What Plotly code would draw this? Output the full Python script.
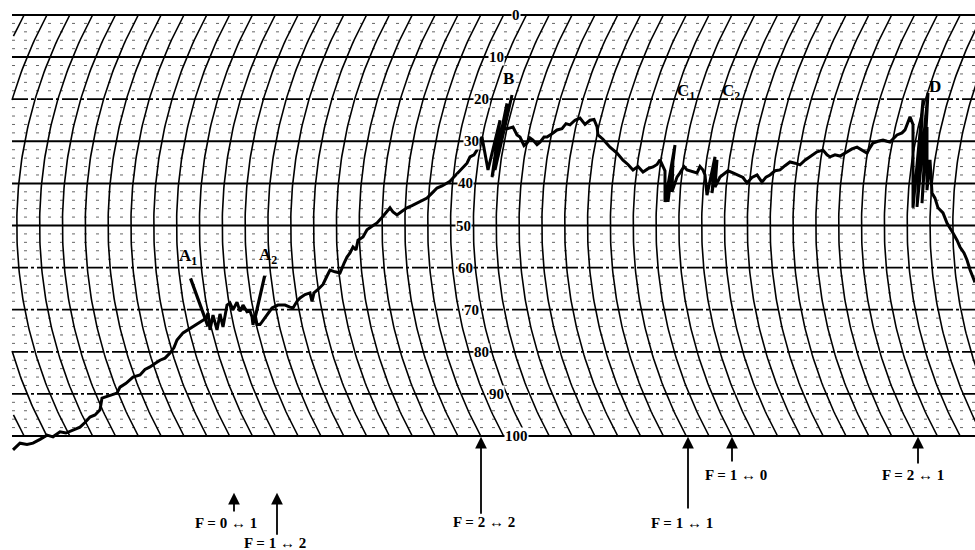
import numpy as np
import plotly.graph_objects as go

# ---------------- data (x: position along the chart strip, y: pen reading 0-100) ------------
# rising part up to the A region
x_rise1 = [13, 17, 20, 27, 33, 40, 47, 53, 60, 66, 73, 80, 85, 90, 95, 100, 102, 106, 112, 117,
           120, 126, 133, 140, 145, 150, 155, 160, 165, 170, 174, 177, 183, 190, 197, 203]
y_rise1 = [103.3, 102.5, 101.7, 102.0, 101.7, 100.8, 99.8, 100.2, 99.0, 99.3, 98.6, 97.9, 96.8,
           95.5, 95.0, 93.8, 91.0, 90.7, 90.2, 89.8, 88.4, 87.5, 86.0, 85.5, 84.2, 83.6, 82.8,
           82.0, 81.5, 80.3, 79.0, 77.2, 75.5, 74.5, 73.5, 72.5]
# A1 / A2 oscillations
x_a = [206, 208, 210, 213, 217, 220, 223, 227, 230, 233, 237, 240, 243, 247, 250, 252, 253, 255,
       257, 260, 262, 267, 272, 278, 285, 290, 293, 297]
y_a = [72.0, 70.8, 74.8, 71.3, 74.8, 71.0, 74.1, 68.9, 68.4, 70.0, 68.2, 70.4, 68.9, 70.5, 70.3,
       71.7, 73.6, 71.0, 73.5, 73.5, 72.9, 71.3, 69.6, 68.9, 68.9, 69.4, 69.6, 68.0]
# second rise up to B
x_rise2 = [300, 305, 310, 312, 314, 318, 323, 327, 330, 335, 340, 344, 347, 350, 353, 356, 358,
           363, 367, 372, 377, 383, 387, 390, 393, 397, 402, 407, 412, 417, 422, 427, 432, 437,
           442, 447, 450, 453, 458, 463, 467, 470, 474, 477, 480]
y_rise2 = [67.2, 66.4, 66.0, 68.0, 66.0, 65.2, 64.0, 62.0, 60.6, 61.0, 61.3, 59.0, 57.5, 56.5,
           55.1, 55.8, 53.5, 52.7, 51.0, 50.2, 49.4, 47.8, 46.5, 45.8, 46.8, 47.5, 46.6, 45.8,
           45.3, 44.7, 44.2, 43.5, 42.3, 41.1, 40.6, 39.9, 39.5, 38.7, 37.4, 36.1, 35.2, 33.7,
           33.2, 32.1, 29.7]
# B oscillation and plateau
x_b = [482, 488, 500, 492, 507, 495, 512, 498, 503, 508, 513, 517, 520, 524, 527, 530, 533, 537,
       540, 544, 547, 552, 557, 562, 566, 570, 575, 580, 585, 590, 594, 597, 598, 603, 610, 617,
       623, 628, 633, 638, 643, 648, 653, 657, 660]
y_b = [29.0, 36.8, 25.0, 38.5, 21.0, 36.8, 19.0, 33.7, 27.3, 27.0, 26.6, 28.5, 29.0, 31.0, 30.4,
       29.2, 29.7, 30.8, 30.2, 29.0, 29.0, 28.2, 27.3, 27.0, 25.8, 26.1, 25.0, 24.5, 26.0, 25.0,
       24.8, 26.5, 28.5, 29.5, 31.4, 32.8, 34.5, 35.5, 36.8, 36.0, 37.3, 36.5, 36.1, 35.5, 34.4]
# C1 / C2 oscillations and slow rise
x_c = [665, 665, 675, 668, 673, 672, 677, 680, 684, 687, 692, 697, 700, 703, 705, 707, 715, 712,
       717, 715, 720, 723, 728, 733, 738, 743, 747, 752, 757, 762, 766, 770, 775, 780, 785, 790,
       795, 800, 805, 810, 814, 817, 823, 827, 830, 835, 840, 844, 847, 852, 857, 862, 867, 870,
       873, 878, 883, 887, 890, 894, 897, 902, 905, 910]
y_c = [37.0, 44.4, 30.9, 44.4, 34.4, 42.0, 38.5, 37.5, 36.0, 36.8, 37.2, 37.5, 36.0, 36.8, 38.0,
       42.8, 33.7, 42.3, 34.4, 40.9, 38.5, 38.0, 37.0, 37.5, 38.0, 38.6, 39.9, 38.6, 38.0, 39.7,
       38.5, 38.0, 37.0, 36.8, 35.8, 34.9, 35.2, 35.6, 34.5, 33.7, 33.0, 32.5, 32.1, 33.2, 33.7,
       33.2, 33.5, 33.0, 32.5, 31.8, 31.4, 32.2, 32.8, 31.5, 30.4, 30.0, 29.7, 30.0, 30.2, 29.2,
       28.5, 28.0, 27.3, 24.2]
# D oscillation and fall
x_d = [913, 913, 923, 917, 928, 922, 927, 927, 930, 932, 935, 938, 943, 947, 950, 953, 957, 960,
       964, 967, 970, 975]
y_d = [26.0, 45.8, 20.2, 45.6, 18.5, 44.7, 26.6, 41.6, 34.4, 42.3, 43.5, 45.8, 47.0, 49.4, 50.5,
       51.8, 53.5, 55.1, 56.5, 58.2, 60.5, 63.5]

trace_x = x_rise1 + x_a + x_rise2 + x_b + x_c + x_d
trace_y = y_rise1 + y_a + y_rise2 + y_b + y_c + y_d
assert len(trace_x) == len(trace_y)

scale_values = [0, 10, 20, 30, 40, 50, 60, 70, 80, 90, 100]
scale_labels = ["0", "10", "20", "30", "40", "50", "60", "70", "80", "90", "100"]
solid_levels = [0, 10, 30, 40, 50, 100]
dashed_levels = [20, 60, 70, 80, 90]
minor_levels = [v for v in range(2, 100, 2) if v % 10 != 0]

peak_labels = ["A<sub>1</sub>", "A<sub>2</sub>", "B", "C<sub>1</sub>", "C<sub>2</sub>", "D"]
peak_x = [188, 268, 508, 686, 731, 935]
peak_y = [57.5, 57.3, 15.0, 18.4, 18.4, 16.9]

transition_labels = ["F = 0 \u2194 1", "F = 1 \u2194 2", "F = 2 \u2194 2",
                     "F = 1 \u2194 1", "F = 1 \u2194 0", "F = 2 \u2194 1"]
transition_x = [234, 277, 481, 688, 732, 918]
transition_arrow_tail = [118.3, 123.8, 118.8, 117.6, 106.4, 106.9]
transition_arrow_head = [113.5, 113.5, 100.2, 100.2, 100.2, 100.2]
transition_text_x = [226, 275, 484, 682, 736, 913]
transition_text_y = [120.6, 125.3, 120.4, 120.6, 109.2, 109.2]

# ---------------- chart geometry ----------------
PX_PER_UNIT = 4.21
Y_TOP = -15 / PX_PER_UNIT
Y_BOT = 535 / PX_PER_UNIT
X_LEFT_EDGE = 12
ARC_PITCH = 22.83
ARC_START = 1.3
R = 444.5
HALF = 50 * PX_PER_UNIT
SAG = R - np.sqrt(R**2 - HALF**2)


def arc_x(xk, v):
    h = (np.asarray(v, float) - 50) * PX_PER_UNIT
    return xk - SAG + (R - np.sqrt(R**2 - h**2))


fig = go.Figure()

# minor horizontal lines
mx, my = [], []
for v in minor_levels:
    mx += [X_LEFT_EDGE, 975, None]
    my += [v, v, None]
fig.add_trace(go.Scatter(x=mx, y=my, mode="lines",
                         line=dict(color="#666", width=1, dash="3px,9px"),
                         hoverinfo="skip", showlegend=False))

# arcs (time lines)
vv = np.linspace(0, 100, 120)
ax_all, ay_all = [], []
for k in range(0, 47):
    xk = ARC_START + k * ARC_PITCH
    xs = arc_x(xk, vv)
    xs = np.where((xs < X_LEFT_EDGE) | (xs > 978), np.nan, xs)
    ax_all += list(xs) + [None]
    ay_all += list(vv) + [None]
fig.add_trace(go.Scatter(x=ax_all, y=ay_all, mode="lines",
                         line=dict(color="black", width=1.6), hoverinfo="skip",
                         showlegend=False))

# major horizontal lines
sx, sy = [], []
for v in solid_levels:
    sx += [X_LEFT_EDGE, 975, None]
    sy += [v, v, None]
fig.add_trace(go.Scatter(x=sx, y=sy, mode="lines", line=dict(color="black", width=2),
                         hoverinfo="skip", showlegend=False))
dx, dy = [], []
for v in dashed_levels:
    dx += [X_LEFT_EDGE, 975, None]
    dy += [v, v, None]
fig.add_trace(go.Scatter(x=dx, y=dy, mode="lines",
                         line=dict(color="black", width=1.8, dash="16px,3px,3px,3px"),
                         hoverinfo="skip", showlegend=False))

# the recorded trace
fig.add_trace(go.Scatter(x=trace_x, y=trace_y, mode="lines",
                         line=dict(color="black", width=3),
                         showlegend=False))

annotations = []
# scale numbers along the arc
for v, lab in zip(scale_values, scale_labels):
    annotations.append(dict(x=float(arc_x(516, v)), y=v, text=f"<b>{lab}</b>",
                            showarrow=False, bgcolor="white", borderpad=0,
                            font=dict(family="Liberation Serif", size=15, color="black")))

# peak labels
for lab, x, y in zip(peak_labels, peak_x, peak_y):
    annotations.append(dict(x=x, y=y, text=f"<b>{lab}</b>", showarrow=False,
                            font=dict(family="Liberation Serif", size=17, color="black")))

# A1 / A2 pointers
annotations.append(dict(x=208, y=74.0, ax=190, ay=62.2, axref="x", ayref="y",
                        text="", showarrow=True, arrowhead=0, arrowwidth=3.2,
                        arrowcolor="black"))
annotations.append(dict(x=255, y=72.0, ax=265, ay=61.6, axref="x", ayref="y",
                        text="", showarrow=True, arrowhead=0, arrowwidth=3.2,
                        arrowcolor="black"))

# transition arrows and labels
for lab, x, t, h, tx, ty in zip(transition_labels, transition_x, transition_arrow_tail,
                                transition_arrow_head, transition_text_x, transition_text_y):
    annotations.append(dict(x=x, y=h, ax=x, ay=t, axref="x", ayref="y", text="",
                            showarrow=True, arrowhead=2, arrowsize=1.3, arrowwidth=1.8,
                            arrowcolor="black", standoff=0, startstandoff=0))
    annotations.append(dict(x=tx, y=ty, text=f"<b>{lab}</b>", showarrow=False,
                            font=dict(family="Liberation Serif", size=15, color="black")))

fig.update_layout(
    width=975, height=550,
    margin=dict(l=0, r=0, t=0, b=0),
    paper_bgcolor="white", plot_bgcolor="white",
    xaxis=dict(range=[0, 975], visible=False, fixedrange=True),
    yaxis=dict(range=[Y_BOT, Y_TOP], visible=False, fixedrange=True),
    annotations=annotations,
    showlegend=False,
)

fig.write_html("out.html", config={"displayModeBar": False},
               post_script="document.body.style.margin='0px';")
